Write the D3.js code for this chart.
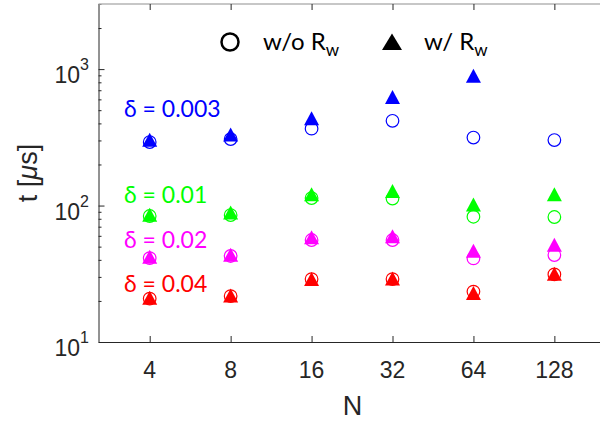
<!DOCTYPE html>
<html>
<head>
<meta charset="utf-8">
<script src="https://cdn.jsdelivr.net/npm/d3@7"></script>
<style>
  body { margin: 0; background: #fff; }
  svg { display: block; }
  .tick-label { font-family: Arial, "Liberation Sans", sans-serif; fill: #262626; }
  .note { font-family: Lato, "Open Sans", sans-serif; }
</style>
</head>
<body>
<svg id="chart" width="600" height="425"></svg>
<script>
'use strict';

// x values (number of nodes) and y tick values
var N = [4, 8, 16, 32, 64, 128];
var yMajor = [10, 100, 1000];
var yExp = ['1', '2', '3'];

// t [us], one pair of series per delta
var woRw003 = [292, 307, 366, 418, 315, 302];
var wRw003 = [303, 331, 437, 624, 895, null];
var woRw01 = [83.8, 85.2, 113.5, 112.5, 82.8, 82.4];
var wRw01 = [85.5, 88.9, 121, 128, 101.7, 121];
var woRw02 = [41.2, 42.7, 55.9, 55.9, 41.0, 43.4];
var wRw02 = [42.1, 43.6, 58.6, 59.6, 46.7, 51.7];
var woRw04 = [20.8, 21.7, 28.9, 28.9, 23.4, 31.3];
var wRw04 = [21.1, 21.9, 28.9, 29.2, 22.9, 31.6];

var deltas = ['0.003', '0.01', '0.02', '0.04'];
var colors = ['#0000ff', '#00ff00', '#ff00ff', '#ff0000'];
var series = [
  {wo: woRw003, w: wRw003},
  {wo: woRw01, w: wRw01},
  {wo: woRw02, w: wRw02},
  {wo: woRw04, w: wRw04}
];

var svg = d3.select('#chart');
var plotLeft = 98.5, plotTop = 4, plotBottom = 342, plotRight = 600;

var x = d3.scaleLog().base(2).domain([2.58, 189.2]).range([plotLeft, plotRight]);
var y = d3.scaleLog().domain([10, 3000]).range([plotBottom, plotTop]);

var yMinor = [];
[10, 100, 1000].forEach(function (d) {
  for (var i = 2; i <= 9; i++) {
    if (d * i <= 3000) { yMinor.push(d * i); }
  }
});

var axisColor = '#262626';

// minor y ticks
svg.append('g')
  .attr('transform', 'translate(' + plotLeft + ',0)')
  .call(d3.axisLeft(y).tickValues(yMinor).tickSizeInner(-3).tickSizeOuter(0).tickFormat(''))
  .call(function (g) { g.select('.domain').remove(); })
  .selectAll('line').attr('stroke', axisColor);

// major y ticks + axis line
svg.append('g')
  .attr('transform', 'translate(' + plotLeft + ',0)')
  .call(d3.axisLeft(y).tickValues(yMajor).tickSizeInner(-6).tickSizeOuter(0).tickFormat(''))
  .call(function (g) {
    g.select('.domain').attr('stroke', axisColor);
    g.selectAll('line').attr('stroke', axisColor);
  });

// y tick labels 10^k
var yLab = svg.append('g');
yMajor.forEach(function (d, i) {
  var t = yLab.append('text')
    .attr('class', 'tick-label')
    .attr('text-anchor', 'end')
    .attr('x', 89)
    .attr('y', y(d) + 14)
    .style('font-size', '23px');
  t.append('tspan').text('10');
  t.append('tspan').attr('dy', -13).style('font-size', '16px').text(yExp[i]);
});

// bottom axis
svg.append('g')
  .attr('transform', 'translate(0,' + plotBottom + ')')
  .call(d3.axisBottom(x).tickValues(N).tickSizeInner(-6).tickSizeOuter(0).tickFormat(''))
  .call(function (g) {
    g.select('.domain').attr('stroke', axisColor);
    g.selectAll('line').attr('stroke', axisColor);
  });

// top box edge with ticks
svg.append('line')
  .attr('x1', plotLeft).attr('x2', plotRight)
  .attr('y1', plotTop).attr('y2', plotTop)
  .attr('stroke', '#b4b4b4').attr('stroke-width', 1.5);
svg.append('g')
  .attr('transform', 'translate(0,' + plotTop + ')')
  .call(d3.axisTop(x).tickValues(N).tickSizeInner(-6).tickSizeOuter(0).tickFormat(''))
  .call(function (g) {
    g.select('.domain').remove();
    g.selectAll('line').attr('stroke', axisColor);
  });

svg.append('g').selectAll('text')
  .data(N).enter().append('text')
  .attr('class', 'tick-label')
  .attr('text-anchor', 'middle')
  .attr('x', function (d) { return x(d); })
  .attr('y', 377.5)
  .style('font-size', '23px')
  .text(function (d) { return d; });

// axis titles
svg.append('text')
  .attr('class', 'tick-label')
  .attr('text-anchor', 'middle')
  .attr('x', 352.5).attr('y', 415)
  .style('font-size', '27px')
  .text('N');

var yt = svg.append('text')
  .attr('class', 'tick-label')
  .attr('text-anchor', 'middle')
  .attr('transform', 'translate(37,' + ((plotTop + plotBottom) / 2) + ') rotate(-90)')
  .style('font-size', '27px');
yt.append('tspan').text('t [');
yt.append('tspan').style('font-style', 'italic').text('\u03bc');
yt.append('tspan').text('s]');

// markers
var tri = d3.symbol().type({
  draw: function (ctx) {
    ctx.moveTo(0, -7);
    ctx.lineTo(7.5, 7);
    ctx.lineTo(-7.5, 7);
    ctx.closePath();
  }
});

var marks = svg.append('g');
series.forEach(function (s, k) {
  var pts = N.map(function (n, i) { return {n: n, v: s.wo[i]}; })
    .filter(function (p) { return p.v !== null; });
  marks.append('g').selectAll('circle')
    .data(pts).enter().append('circle')
    .attr('cx', function (p) { return x(p.n); })
    .attr('cy', function (p) { return y(p.v); })
    .attr('r', 6.3)
    .attr('fill', 'none')
    .attr('stroke', colors[k])
    .attr('stroke-width', 1.2);
});
series.forEach(function (s, k) {
  var pts = N.map(function (n, i) { return {n: n, v: s.w[i]}; })
    .filter(function (p) { return p.v !== null; });
  marks.append('g').selectAll('path')
    .data(pts).enter().append('path')
    .attr('d', tri)
    .attr('transform', function (p) { return 'translate(' + x(p.n) + ',' + y(p.v) + ')'; })
    .attr('fill', colors[k]);
});

// delta labels
var labelY = [117, 203, 248, 291.5];
deltas.forEach(function (d, k) {
  svg.append('text')
    .attr('class', 'note')
    .attr('x', 124).attr('y', labelY[k])
    .attr('fill', colors[k])
    .style('font-size', '23px')
    .text('\u03b4 = ' + d);
});

// legend
var leg = svg.append('g');
leg.append('circle')
  .attr('cx', 230).attr('cy', 42).attr('r', 8.5)
  .attr('fill', 'none').attr('stroke', '#000').attr('stroke-width', 2.5);
leg.append('path')
  .attr('d', 'M0,-8.5L10,8L-10,8Z')
  .attr('transform', 'translate(392,42)')
  .attr('fill', '#000');

function legendText(xp, str) {
  var t = leg.append('text')
    .attr('class', 'note')
    .attr('x', xp).attr('y', 49.5)
    .attr('fill', '#000')
    .style('font-size', '24px');
  t.append('tspan').text(str);
  t.append('tspan').attr('dy', 6).style('font-size', '17px').text('w');
}
legendText(263, 'w/o R');
legendText(424, 'w/ R');
</script>
</body>
</html>
